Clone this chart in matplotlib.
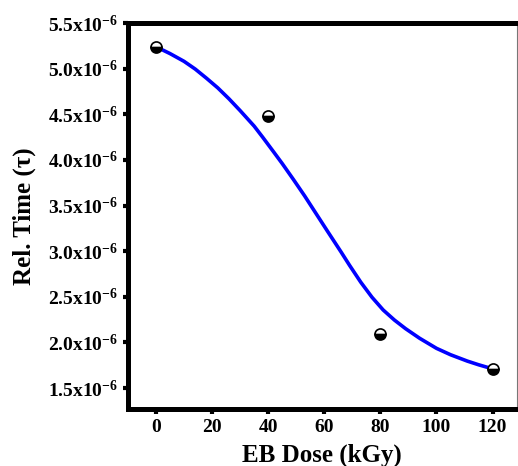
import matplotlib

matplotlib.use("Agg")
import matplotlib.pyplot as plt
from matplotlib.ticker import FixedLocator, FuncFormatter

# measured points
dose = [0, 40, 80, 120]
rel_time = [5.24e-6, 4.48e-6, 2.09e-6, 1.71e-6]

# fitted curve
fit_dose = [0, 5, 10, 14, 18, 22, 26, 30, 35, 38, 42, 45, 49, 53, 57, 61, 66, 69,
            73, 77, 81, 85, 89, 94, 100, 105, 111, 115, 120]
fit_time = [5.24e-6, 5.165e-6, 5.08e-6, 4.995e-6, 4.895e-6, 4.79e-6, 4.67e-6, 4.54e-6,
            4.37e-6, 4.25e-6, 4.085e-6, 3.96e-6, 3.785e-6, 3.605e-6, 3.415e-6, 3.225e-6,
            2.99e-6, 2.845e-6, 2.66e-6, 2.495e-6, 2.355e-6, 2.245e-6, 2.15e-6, 2.045e-6,
            1.935e-6, 1.865e-6, 1.795e-6, 1.755e-6, 1.71e-6]

y_ticks = [1.5e-6, 2.0e-6, 2.5e-6, 3.0e-6, 3.5e-6, 4.0e-6, 4.5e-6, 5.0e-6, 5.5e-6]
x_ticks = [0, 20, 40, 60, 80, 100, 120]

plt.rcParams["font.family"] = "Liberation Serif"
plt.rcParams["font.weight"] = "bold"
plt.rcParams["mathtext.fontset"] = "custom"
plt.rcParams["mathtext.rm"] = "Liberation Serif:bold"
plt.rcParams["mathtext.sf"] = "Liberation Serif:bold"
plt.rcParams["mathtext.default"] = "regular"

fig = plt.figure(figsize=(5.18, 4.66), dpi=100)
ax = fig.add_axes([0.247, 0.1223, 0.7505, 0.8283])

ax.plot(fit_dose, fit_time, color="#0000FF", linewidth=2.6, zorder=2,
        solid_joinstyle="round")
ax.plot(dose, rel_time, linestyle="none", marker="o", markersize=8,
        fillstyle="bottom", markerfacecolor="black", markerfacecoloralt="white",
        markeredgecolor="black", markeredgewidth=1.2, zorder=3)

ax.set_xlim(-10, 128.6)
ax.set_ylim(1.27e-6, 5.5e-6)

ax.xaxis.set_major_locator(FixedLocator(x_ticks))
ax.yaxis.set_major_locator(FixedLocator(y_ticks))
ax.yaxis.set_major_formatter(
    FuncFormatter(lambda v, pos: "%.1fx10$^{\\mathsf{-}6}$" % (v * 1e6)))

for side in ("left", "bottom", "top"):
    ax.spines[side].set_linewidth(3.6)
    ax.spines[side].set_color("black")
ax.spines["right"].set_linewidth(0.8)
ax.spines["right"].set_color("#777777")

ax.tick_params(axis="both", direction="out", length=3.5, width=3,
               labelsize=14, pad=4)
ax.tick_params(top=False, right=False)

# reference crops this label at the bottom edge; keep it just inside
ax.set_xlabel("EB Dose (kGy)", fontsize=18, fontweight="bold", labelpad=5)
ax.set_ylabel("Rel. Time (\u03c4)", fontsize=18, fontweight="bold", labelpad=8)

fig.savefig("out.png", dpi=100)
